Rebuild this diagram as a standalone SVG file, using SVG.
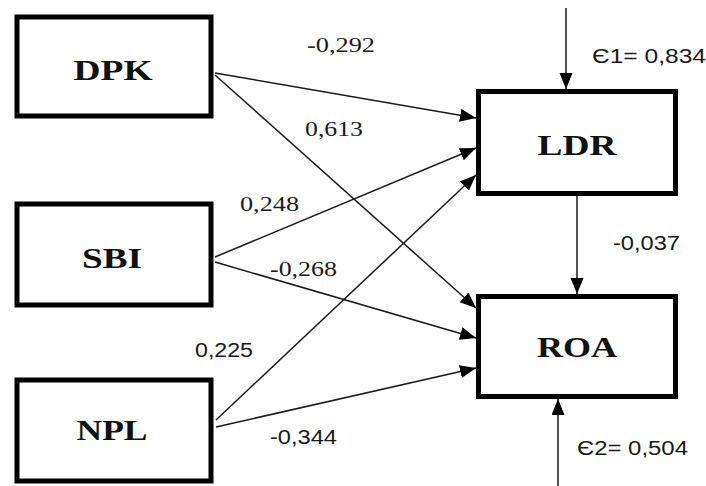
<svg xmlns="http://www.w3.org/2000/svg" width="706" height="486" viewBox="0 0 706 486">
<style>
.box{fill:#fff;stroke:#000;stroke-width:5}
.nl{font-family:"Liberation Serif","Times New Roman",serif;font-weight:bold;font-size:30px;fill:#111;text-anchor:middle}
.edge{stroke:#1a1a1a;stroke-width:1.5;fill:none;marker-end:url(#ah)}
.ls{font-family:"Liberation Serif","Times New Roman",serif;font-size:20px;fill:#1a1a1a}
.la{font-family:"Liberation Sans",Arial,sans-serif;font-size:20px;fill:#1a1a1a}
</style>
<defs>
<marker id="ah" markerUnits="userSpaceOnUse" markerWidth="18" markerHeight="14" refX="16" refY="6.5" orient="auto">
<path d="M0,0 L16,6.5 L0,13 z" fill="#000"/>
</marker>
</defs>
<g id="connectors">
<line class="edge" x1="215" y1="73" x2="476" y2="118"/>
<line class="edge" x1="215" y1="75" x2="476" y2="308"/>
<line class="edge" x1="215" y1="257" x2="476" y2="148"/>
<line class="edge" x1="215" y1="262" x2="476" y2="338"/>
<line class="edge" x1="216" y1="420" x2="476" y2="175"/>
<line class="edge" x1="216" y1="427" x2="476" y2="368"/>
<line class="edge" x1="566" y1="8" x2="566" y2="89"/>
<line class="edge" x1="577" y1="196" x2="577" y2="294"/>
<line class="edge" x1="558" y1="486" x2="558" y2="399"/>
<text class="ls" x="307" y="52" textLength="68" lengthAdjust="spacingAndGlyphs">-0,292</text>
<text class="ls" x="305" y="136" textLength="58" lengthAdjust="spacingAndGlyphs">0,613</text>
<text class="ls" x="240" y="211" textLength="59" lengthAdjust="spacingAndGlyphs">0,248</text>
<text class="ls" x="270" y="276" textLength="67" lengthAdjust="spacingAndGlyphs">-0,268</text>
<text class="la" x="195" y="357" textLength="58" lengthAdjust="spacingAndGlyphs">0,225</text>
<text class="la" x="270" y="444" textLength="67" lengthAdjust="spacingAndGlyphs">-0,344</text>
<text class="la" x="613" y="250" textLength="67" lengthAdjust="spacingAndGlyphs">-0,037</text>
<text class="la" x="592" y="63" textLength="114" lengthAdjust="spacingAndGlyphs">Є1= 0,834</text>
<text class="la" x="577" y="455" textLength="111" lengthAdjust="spacingAndGlyphs">Є2= 0,504</text>
</g>
<g id="DPK">
<rect class="box" x="17" y="17" width="194" height="99"/>
<text class="nl" x="113" y="80" textLength="79" lengthAdjust="spacingAndGlyphs">DPK</text>
</g>
<g id="SBI">
<rect class="box" x="17" y="204" width="194" height="101"/>
<text class="nl" x="112" y="268" textLength="60" lengthAdjust="spacingAndGlyphs">SBI</text>
</g>
<g id="NPL">
<rect class="box" x="17" y="380" width="194" height="101"/>
<text class="nl" x="112" y="440" textLength="71" lengthAdjust="spacingAndGlyphs">NPL</text>
</g>
<g id="LDR">
<rect class="box" x="478.5" y="91.5" width="197" height="102"/>
<text class="nl" x="577" y="155" textLength="79" lengthAdjust="spacingAndGlyphs">LDR</text>
</g>
<g id="ROA">
<rect class="box" x="478.5" y="296.5" width="197" height="100"/>
<text class="nl" x="577" y="357" textLength="80" lengthAdjust="spacingAndGlyphs">ROA</text>
</g>
</svg>
